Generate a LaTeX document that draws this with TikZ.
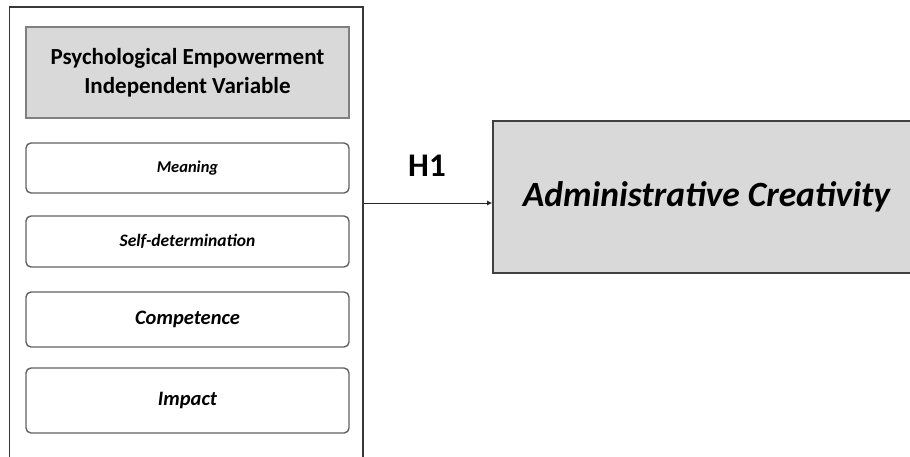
\documentclass[tikz,border=0pt]{standalone}
\usepackage{fontspec}
\setmainfont{Carlito}
\usetikzlibrary{arrows.meta}
\begin{document}
\begin{tikzpicture}[x=1pt,y=-1pt,
  frame/.style={draw=black!78,line width=1.8pt,inner sep=0pt},
  headbox/.style={draw=black!50,line width=1.3pt,fill=black!15,inner sep=0pt,
    minimum width=323pt,minimum height=91pt,align=center,
    font=\bfseries\fontsize{23}{29}\selectfont},
  dimbox/.style={draw=black!62,line width=1.4pt,rounded corners=5pt,inner sep=0pt,
    minimum width=323pt,font=\bfseries\itshape},
  depbox/.style={draw=black!75,line width=1.6pt,fill=black!15,inner sep=0pt,
    minimum width=427pt,minimum height=152pt,
    font=\bfseries\itshape\fontsize{35.5}{40}\selectfont},
  link/.style={draw=black!85,line width=0.9pt,-{Latex[length=5pt,width=5pt]}}]
\clip (0,0) rectangle (910,456);
%%Unabhaengige Variable
\node[frame,minimum width=353.5pt,minimum height=453pt] (pe) at (186.25,233.5) {};
\node[headbox] (head) at (187.5,72.5) {Psychological Empowerment\\Independent Variable};
\node[dimbox,minimum height=50pt,font=\bfseries\itshape\fontsize{16.5}{18}\selectfont] (mean) at (187.5,168) {Meaning};
\node[dimbox,minimum height=51pt,font=\bfseries\itshape\fontsize{17.5}{19}\selectfont] (self) at (187.5,241.5) {Self-determination};
\node[dimbox,minimum height=55pt,font=\bfseries\itshape\fontsize{20.5}{22}\selectfont] (comp) at (187.5,319.5) {Competence};
\node[dimbox,minimum height=65pt,font=\bfseries\itshape\fontsize{20.5}{22}\selectfont] (imp) at (187.5,400.5) {Impact};
%%Abhaengige Variable
\node[depbox] (ac) at (706.5,197) {Administrative Creativity};
%%
\draw[link] (pe.east |- 0,203) -- (ac.west |- 0,203);
\node[font=\bfseries\fontsize{33}{36}\selectfont] (h1) at (427,166) {H1};
\end{tikzpicture}
\end{document}
